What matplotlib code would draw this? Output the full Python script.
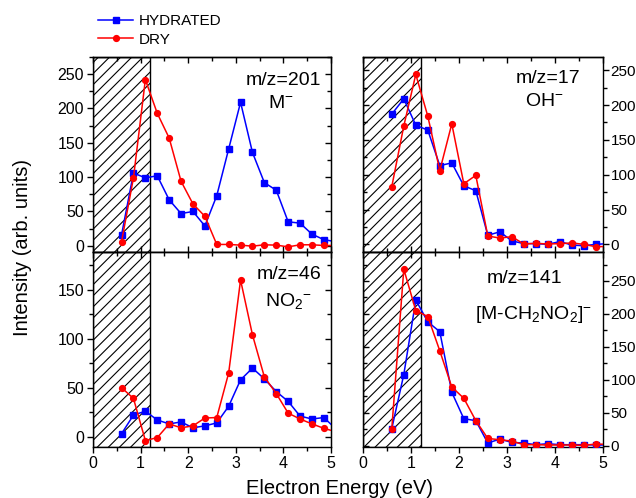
import matplotlib
matplotlib.use("Agg")
import matplotlib.pyplot as plt
from matplotlib.ticker import MultipleLocator, NullFormatter

plt.rcParams['font.family'] = ['Liberation Sans', 'DejaVu Sans']
plt.rcParams['mathtext.default'] = 'regular'
plt.rcParams['hatch.linewidth'] = 0.8

# electron energy (eV), last point lies just outside the axis
energy = [0.6, 0.85, 1.1, 1.35, 1.6, 1.85, 2.1, 2.35, 2.6, 2.85, 3.1,
          3.35, 3.6, 3.85, 4.1, 4.35, 4.6, 4.85, 5.1]

# m/z=201  M-
hyd_201 = [16, 106, 99, 102, 67, 47, 50, 29, 73, 141, 209, 136, 92, 81,
           35, 33, 17, 9, 6]
dry_201 = [6, 99, 242, 193, 157, 94, 61, 43, 2, 2, 1, -0.5, 1.5, 1,
           -1.5, 1.5, 1.5, 0.5, 0.5]

# m/z=17  OH-
hyd_17 = [187, 209, 171, 164, 113, 117, 84, 77, 13, 18, 5, 1, 1, 0, 4,
          -1, -2, 0, 1]
dry_17 = [83, 170, 244, 184, 106, 173, 87, 99, 12, 9, 11, 0.5, 1.5, 0.5,
          1, 2, 0, -3.4, -3]

# m/z=46  NO2-
hyd_46 = [3, 22, 26, 17, 13, 15, 9, 11, 14, 31, 58, 70, 59, 46, 36, 21,
          18, 19.5, 8]
dry_46 = [50, 39, -4, -1, 13, 9, 11, 19, 19.5, 65, 160, 104, 61, 44, 24,
          18, 13, 8.5, 5]

# m/z=141  [M-CH2NO2]-
hyd_141 = [26, 108, 221, 188, 173, 81, 41, 38, 4, 10, 5, 4, 1.5, 3, 1.5,
           1.5, 1.5, 1, 1]
dry_141 = [26, 268, 205, 196, 144, 89, 72, 38, 11, 9, 7, 1.5, 1.5, 1, 1,
           1, 0.5, 2.5, 2]

panels = [
    (hyd_201, dry_201, 'm/z=201', 'M$^{-}$', (-9, 275)),
    (hyd_17, dry_17, 'm/z=17', 'OH$^{-}$', (-11, 269)),
    (hyd_46, dry_46, 'm/z=46', 'NO$_2$$^{-}$', (-10.6, 188.6)),
    (hyd_141, dry_141, 'm/z=141', '[M-CH$_2$NO$_2$]$^{-}$', (-2, 294)),
]
label_pos = [
    ((0.80, 0.88), (0.79, 0.76)),
    ((0.77, 0.89), (0.755, 0.77)),
    ((0.824, 0.885), (0.82, 0.75)),
    ((0.675, 0.865), (0.71, 0.68)),
]

fig = plt.figure(figsize=(6.36, 4.98), dpi=100)
W, H = 636, 498
boxes = [(93, 57), (363, 57), (93, 252), (363, 252)]
widths = [238, 240, 238, 240]


def style_ticks(a, which_axis, direction, **kw):
    a.tick_params(axis=which_axis, which='both', direction=direction,
                  width=1.0, **kw)
    a.tick_params(axis=which_axis, which='major', length=4.5)
    a.tick_params(axis=which_axis, which='minor', length=3)


for i, (hyd, dry, name, ion, ylim) in enumerate(panels):
    x0, y0 = boxes[i]
    ax = fig.add_axes([x0 / W, 1 - (y0 + 195) / H, widths[i] / W, 195 / H])
    ax.axvspan(0, 1.2, facecolor='none', edgecolor='k', hatch='///',
               linewidth=1, zorder=1)
    h1, = ax.plot(energy, hyd, '-s', color='#0000ff', lw=1.1, ms=4.2,
                  label='HYDRATED', zorder=3)
    h2, = ax.plot(energy, dry, '-o', color='#ff0000', lw=1.1, ms=4.2,
                  label='DRY', zorder=4)
    ax.set_xlim(0, 5)
    ax.set_ylim(*ylim)
    for s in ax.spines.values():
        s.set_linewidth(1.0)

    right = i % 2 == 1
    bottom = i >= 2

    # main axes: labelled sides, outward ticks
    ax.xaxis.set_major_locator(MultipleLocator(1))
    ax.xaxis.set_minor_locator(MultipleLocator(0.5))
    ax.yaxis.set_major_locator(MultipleLocator(50))
    ax.yaxis.set_minor_locator(MultipleLocator(25))
    style_ticks(ax, 'x', 'out' if bottom else 'in', labelsize=11.5, pad=2,
                labelbottom=bottom)
    if right:
        ax.yaxis.tick_right()
        style_ticks(ax, 'y', 'out', labelsize=11, pad=1)
    else:
        style_ticks(ax, 'y', 'out', labelsize=11.5, pad=2)

    # opposite sides: inward ticks, no labels
    top = ax.secondary_xaxis('top')
    top.xaxis.set_major_locator(MultipleLocator(1))
    top.xaxis.set_minor_locator(MultipleLocator(0.5))
    top.xaxis.set_major_formatter(NullFormatter())
    style_ticks(top, 'x', 'in')
    top.spines['top'].set_linewidth(1.0)

    side = ax.secondary_yaxis('left' if right else 'right')
    side.yaxis.set_major_locator(MultipleLocator(50))
    side.yaxis.set_minor_locator(MultipleLocator(25))
    side.yaxis.set_major_formatter(NullFormatter())
    style_ticks(side, 'y', 'in')

    (nx, ny), (ix, iy) = label_pos[i]
    ax.text(nx, ny, name, transform=ax.transAxes, ha='center', va='center',
            fontsize=14)
    ax.text(ix, iy, ion, transform=ax.transAxes, ha='center', va='center',
            fontsize=14)

fig.legend([h1, h2], ['HYDRATED', 'DRY'], loc='upper left',
           bbox_to_anchor=(98 / W, 1 - 14 / H), frameon=False, fontsize=11,
           handlelength=2.3, handletextpad=0.4, labelspacing=0.3,
           borderpad=0, borderaxespad=0)

fig.text(23 / W, 1 - 247 / H, 'Intensity (arb. units)', rotation=90,
         ha='center', va='center', fontsize=14.5)
fig.text(340 / W, 1 - 488 / H, 'Electron Energy (eV)', ha='center',
         va='center', fontsize=14.5)

fig.savefig('out.png', dpi=100)
